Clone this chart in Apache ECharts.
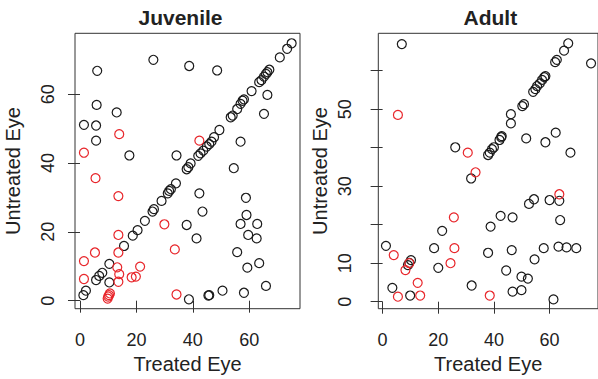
<!DOCTYPE html>
<html>
<head>
<meta charset="utf-8">
<script src="https://cdn.jsdelivr.net/npm/echarts@6/dist/echarts.min.js"></script>
<style>
html,body{margin:0;padding:0;background:#fff;}
#chart{width:598px;height:379px;}
</style>
</head>
<body>
<div id="chart"></div>
<script>
// ---- data ----
var panelTitles = ['Juvenile', 'Adult'];
var xAxisTitle = 'Treated Eye';
var yAxisTitle = 'Untreated Eye';

var juvenileXTicks = [0, 20, 40, 60];
var juvenileYTicks = [0, 20, 40, 60];
var adultXTicks = [0, 20, 40, 60];
var adultYTicks = [0, 10, 20, 30, 40, 50, 60];
var adultYTickLabels = [0, 10, 30, 50];

var juvenileBlack = [
  [1.2,1.6],[2.1,2.9],[5.7,6.0],[6.8,7.2],[7.9,8.1],[10.4,10.7],[10.4,5.3],[15.6,15.9],
  [18.7,18.9],[20.4,20.5],[23.0,23.2],[25.7,25.9],[26.2,26.6],[28.9,29.0],[31.1,31.2],
  [31.6,31.9],[32.2,32.4],[34.0,34.1],[37.8,38.2],[38.4,38.8],[39.2,39.9],[41.9,42.1],
  [42.7,42.8],[43.7,43.6],[44.9,44.8],[45.8,45.5],[46.6,46.2],[47.5,47.5],[49.4,49.6],
  [53.4,53.3],[54.1,53.8],[55.7,55.7],[56.9,57.2],[57.6,58.1],[58.1,58.5],[60.8,60.9],
  [63.5,63.5],[64.3,64.1],[65.2,65.1],[65.9,65.9],[66.4,66.4],[67.1,67.1],[70.8,70.7],
  [73.4,73.2],[75.0,74.8],
  [6.1,66.8],[26.0,70.0],[38.7,68.2],[48.6,66.9],[5.9,56.9],[13.0,54.7],[1.4,51.1],
  [5.7,50.9],[5.7,46.5],[17.5,42.2],[34.2,42.2],[56.9,46.2],[66.4,59.8],[65.2,54.3],
  [54.5,38.5],[42.3,31.2],[58.8,29.9],[43.4,25.9],[59.0,24.9],[56.9,22.3],[62.8,22.3],
  [37.8,22.0],[59.6,19.1],[62.6,18.1],[41.3,18.1],[55.7,14.1],[59.3,9.6],[63.5,10.9],
  [65.9,4.3],[58.1,2.3],[50.5,2.9],[45.8,1.6],[45.5,1.5],[38.6,0.4]
];
var juvenileRed = [
  [10.0,1.2],[9.8,0.6],[10.6,2.1],[10.3,1.6],[1.4,11.5],[1.4,6.3],[5.3,14.0],[13.6,19.1],
  [13.6,14.0],[13.2,9.7],[13.9,7.7],[13.6,5.5],[18.3,6.8],[19.8,7.0],[21.3,9.9],
  [29.9,22.2],[33.6,14.9],[34.2,1.8],[13.6,30.4],[5.5,35.6],[1.4,43.0],[13.9,48.4],
  [42.3,46.5]
];
var adultBlack = [
  [37.9,38.1],[38.5,38.7],[39.3,39.6],[40.0,40.1],[42.0,42.0],[42.6,42.7],[42.8,43.0],
  [46.1,48.7],[46.1,46.3],[50.2,50.8],[50.8,51.3],[54.1,54.5],[54.9,55.2],[55.5,56.0],
  [56.5,56.7],[57.3,57.6],[58.1,58.3],[58.5,58.6],[62.0,62.2],[62.6,62.8],[65.2,65.2],
  [66.7,67.1],
  [6.9,66.9],[74.9,61.9],[26.1,40.1],[31.8,32.0],[51.6,42.4],[58.5,41.4],[62.2,43.9],
  [67.5,38.7],[52.6,25.4],[54.4,26.6],[60.0,26.4],[63.5,26.2],[63.8,21.2],[42.4,22.3],
  [46.7,21.9],[38.8,19.5],[21.4,18.4],[18.5,13.9],[1.2,14.5],[37.9,12.7],[46.4,13.4],
  [57.9,13.9],[63.2,14.3],[66.1,14.1],[69.6,13.9],[54.6,11.0],[10.2,10.8],[9.6,10.1],
  [9.1,9.5],[20.0,8.8],[44.4,8.1],[49.9,6.5],[52.2,6.0],[32.0,4.2],[3.5,3.6],[9.9,1.6],
  [46.7,2.6],[49.9,3.0],[61.4,0.6]
];
var adultRed = [
  [5.5,48.5],[30.6,38.7],[33.4,33.6],[25.6,21.9],[25.8,13.9],[24.4,10.0],[63.5,27.9],
  [4.0,12.1],[8.2,8.2],[9.6,10.0],[12.6,4.9],[5.5,1.3],[13.5,1.6],[38.5,1.6]
];

// ---- chart ----
var FONT = "'Liberation Sans', Arial, Helvetica, sans-serif";
var TXT = '#222';
var BLACK = '#1a1a1a';
var RED = '#e8262b';

function xAxisCfg(idx, min, max, ticks) {
  return {
    type: 'value', gridIndex: idx, min: min, max: max,
    name: xAxisTitle, nameLocation: 'middle', nameGap: 45,
    nameTextStyle: { fontFamily: FONT, fontSize: 20, color: TXT },
    splitLine: { show: false },
    axisLine: { show: false },
    axisTick: { show: true, customValues: ticks, length: 12, inside: false,
      lineStyle: { color: '#333', width: 1 } },
    axisLabel: { customValues: ticks, margin: 22, fontFamily: FONT, fontSize: 18, color: TXT }
  };
}
function yAxisCfg(idx, min, max, ticks, labels, margin, gap) {
  return {
    type: 'value', gridIndex: idx, min: min, max: max,
    name: yAxisTitle, nameLocation: 'middle', nameGap: gap, nameRotate: 90,
    nameTextStyle: { fontFamily: FONT, fontSize: 20, color: TXT },
    splitLine: { show: false },
    axisLine: { show: false },
    axisTick: { show: true, customValues: ticks, length: 12,
      lineStyle: { color: '#333', width: 1 } },
    axisLabel: { customValues: labels, rotate: 90, margin: margin,
      fontFamily: FONT, fontSize: 18, color: TXT }
  };
}
function scat(data, color, xi, yi) {
  return {
    type: 'scatter', xAxisIndex: xi, yAxisIndex: yi, data: data,
    symbol: 'circle', symbolSize: 9, silent: true,
    itemStyle: { color: 'rgba(0,0,0,0)', borderColor: color, borderWidth: 1.2, opacity: 1 },
    emphasis: { disabled: true }
  };
}

var chart = echarts.init(document.getElementById('chart'), null, { renderer: 'svg' });
chart.setOption({
  animation: false,
  backgroundColor: '#fff',
  grid: [
    { left: 75, top: 33.3, width: 225, height: 275.4, show: true, borderColor: '#333', borderWidth: 1, backgroundColor: 'transparent' },
    { left: 378.3, top: 33.3, width: 223.7, height: 275.4, show: true, borderColor: '#333', borderWidth: 1, backgroundColor: 'transparent' }
  ],
  xAxis: [
    xAxisCfg(0, -1.77, 77.96, juvenileXTicks),
    xAxisCfg(1, -1.55, 77.4, adultXTicks)
  ],
  yAxis: [
    yAxisCfg(0, -2.33, 77.7, juvenileYTicks, juvenileYTicks, 18, 52),
    yAxisCfg(1, -1.82, 69.7, adultYTicks, adultYTickLabels, 24, 48)
  ],
  graphic: [
    { type: 'text', x: 180.5, y: 17.5, style: { text: panelTitles[0], textAlign: 'center', textVerticalAlign: 'middle', font: 'bold 21px ' + FONT, fill: TXT } },
    { type: 'text', x: 490.3, y: 17.5, style: { text: panelTitles[1], textAlign: 'center', textVerticalAlign: 'middle', font: 'bold 21px ' + FONT, fill: TXT } }
  ],
  series: [
    scat(juvenileBlack, BLACK, 0, 0),
    scat(juvenileRed, RED, 0, 0),
    scat(adultBlack, BLACK, 1, 1),
    scat(adultRed, RED, 1, 1)
  ]
});
</script>
</body>
</html>
